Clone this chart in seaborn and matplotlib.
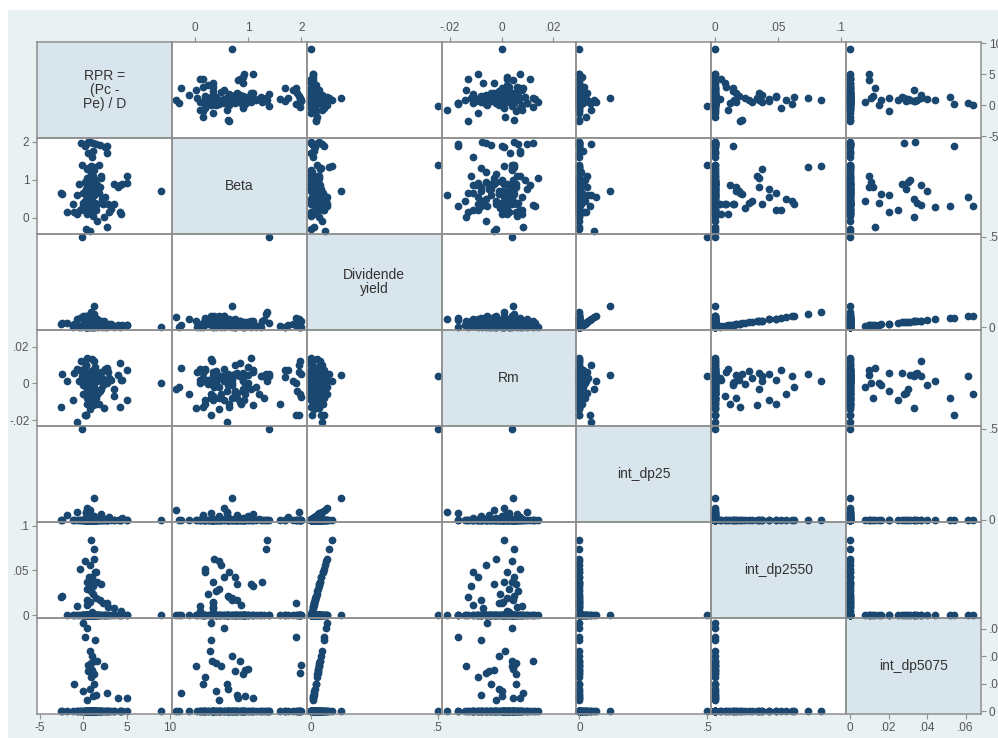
import matplotlib
matplotlib.use("Agg")
from matplotlib import pyplot as plt
from matplotlib.patches import Rectangle
import pandas as pd
import seaborn as sns
import numpy as np


##### Firm level data read off the scatter matrix
# rows are grouped by payout class: none (39), dp25 (23), dp2550 (32), dp5075 (28)
rpr = [9.0, 0.3, 0.8, 1.5, -0.3, 1.9, 0.6, 1.5, 0.3, 4.2, 4.2, 5.0, 3.2, 0.5, 1.0, 0.2, 1.2, 0.9, 0.4, 1.7,
       0.1, 1.3, 0.7, 2.2, 0.0, 1.1, 0.6, 3.5, 1.4, -0.5, 0.8, 2.8, 1.6, 0.3, 1.0, -1.2, 2.5, 0.5, 1.8,
       -0.1, 1.2, 0.8, 0.5, -0.7, 0.3, 0.3, 0.6, 2.0, 0.9, -1.9, 1.3, 0.7, 3.0, 1.1, 0.4, 4.5, 1.8, 0.2, 1.0,
       2.5, 0.6, 1.4,
       0.9, 1.2, 1.3, 0.2, -0.4, 0.8, 1.4, 1.5, 0.7, 1.0, 0.5, 1.6, 2.0, 0.9, 1.1, 0.5, 0.9, 1.1, -2.4, -2.5,
       1.5, 0.5, 1.9, 0.8, 2.3, 2.7, 0.4, -0.7, 2.9, 3.5, 4.3, 1.0,
       0.0, 0.4, 0.2, 1.4, 0.8, 1.0, 0.6, 1.2, 1.6, 0.9, 2.4, 0.7, 1.1, 0.8, 1.0, 0.6, 1.3, 0.9, -1.0, 1.2,
       0.0, 0.8, 2.7, 1.5, 4.0, 5.0, 1.1, 0.5]

beta = [0.70, 1.95, 2.00, 1.95, 1.98, 1.92, 1.70, 0.90, -0.30, 0.85, 0.15, 0.92, 0.24, 1.05, 0.30, 0.95, 0.60, 1.15, 0.40, 0.75,
        0.20, 1.25, 0.85, 0.50, 0.65, 0.05, 1.30, 0.90, 1.00, 0.90, 0.45, 1.70, -0.10, 0.75, 1.60, 0.35, 1.85, 0.10, 1.40,
        1.40, 0.70, -0.35, 0.55, 0.60, 1.95, 0.30, 0.60, 1.10, 0.80, 0.15, 1.00, 0.45, 0.15, 1.75, 0.95, 0.90, 0.65, 0.35, 1.20,
        0.55, 0.75, 0.40,
        1.35, 1.33, 0.37, 0.45, 0.19, 0.50, 0.65, 0.20, 0.75, 0.55, 1.27, 0.35, 1.05, 0.80, 1.10, 0.45, 0.40, 0.25, 0.63, 0.65,
        0.70, 0.70, 0.80, 0.35, 0.35, 1.90, 0.87, 0.10, 0.35, 0.35, 0.10, 0.35,
        0.30, 0.55, 1.90, 0.30, 0.28, 0.70, 2.00, 0.33, 0.85, 0.40, 0.03, 0.50, 1.98, 1.00, 0.95, 0.75, 0.90, 0.20, 0.15, 0.60,
        0.40, 0.62, -0.25, 0.80, 0.82, 1.10, 0.95, 0.45]

div_yield = [0.0, 0.004, 0.0, 0.012, 0.0, 0.008, 0.0, 0.015, 0.0, 0.006, 0.0, 0.010, 0.020, 0.0, 0.025, 0.0, 0.018, 0.0, 0.030, 0.0,
             0.022, 0.0, 0.035, 0.0, 0.012, 0.0, 0.040, 0.0, 0.028, 0.0, 0.014, 0.0, 0.045, 0.0, 0.009, 0.0, 0.016, 0.0, 0.024,
             0.50, 0.12, 0.055, 0.065, 0.045, 0.045, 0.040, 0.035, 0.030, 0.028, 0.025, 0.022, 0.020, 0.018, 0.015, 0.012, 0.010, 0.008, 0.006, 0.005,
             0.004, 0.003, 0.002,
             0.084, 0.074, 0.063, 0.061, 0.052, 0.056, 0.048, 0.048, 0.043, 0.043, 0.037, 0.037, 0.035, 0.035, 0.033, 0.029, 0.027, 0.024, 0.021, 0.020,
             0.019, 0.017, 0.017, 0.015, 0.014, 0.014, 0.012, 0.010, 0.009, 0.008, 0.005, 0.004,
             0.064, 0.061, 0.054, 0.052, 0.044, 0.040, 0.034, 0.037, 0.037, 0.035, 0.033, 0.033, 0.028, 0.031, 0.030, 0.029, 0.027, 0.025, 0.020, 0.020,
             0.015, 0.016, 0.013, 0.012, 0.010, 0.010, 0.011, 0.008]

rm = [0.000, -0.017, -0.0075, 0.0064, 0.012, -0.004, 0.0034, -0.004, -0.002, 0.011, -0.013, -0.009, 0.002, 0.014, 0.013, -0.006, 0.002, -0.002, 0.005, -0.005,
      0.008, 0.004, -0.010, 0.003, -0.001, 0.006, -0.008, -0.003, 0.009, 0.001, -0.014, 0.007, -0.006, 0.010, -0.011, -0.009, 0.001, 0.000, 0.005,
      0.004, 0.0045, -0.003, 0.001, -0.021, 0.010, -0.017, 0.003, 0.006, -0.005, 0.0015, 0.000, -0.008, 0.003, 0.007, -0.002, 0.002, -0.011, 0.004, -0.006,
      0.008, -0.004, 0.001,
      0.001, 0.005, -0.002, 0.004, 0.007, -0.006, 0.002, -0.011, 0.005, -0.009, 0.004, 0.001, -0.003, 0.0055, -0.012, 0.003, 0.0065, -0.0005, 0.005, -0.013,
      0.002, -0.008, 0.0045, 0.0005, -0.001, 0.000, -0.011, 0.008, 0.006, -0.007, 0.002, 0.003,
      -0.0056, 0.004, -0.017, -0.008, 0.0015, -0.001, 0.005, 0.012, 0.004, 0.0055, -0.0136, 0.004, -0.006, 0.0045, -0.003, -0.005, 0.0055, -0.009, 0.0055, -0.004,
      0.0003, -0.001, 0.0085, -0.008, 0.0045, 0.007, 0.000, -0.002]

payout_group = ["none"] * 39 + ["dp25"] * 23 + ["dp2550"] * 32 + ["dp5075"] * 28

diag_labels = ["RPR =\n(Pc -\nPe) / D", "Beta", "Dividende\nyield", "Rm", "int_dp25", "int_dp2550", "int_dp5075"]

# axis ranges and tick labels (Stata style)
axis_lims = [(-5.3, 10.2), (-0.43, 2.1), (-0.015, 0.515), (-0.0232, 0.029),
             (-0.012, 0.515), (-0.003, 0.104), (-0.002, 0.068)]
axis_ticks = [[-5, 0, 5, 10], [0, 1, 2], [0, 0.5], [-0.02, 0, 0.02],
              [0, 0.5], [0, 0.05, 0.1], [0, 0.02, 0.04, 0.06]]
axis_ticklabels = [["-5", "0", "5", "10"], ["0", "1", "2"], ["0", ".5"], ["-.02", "0", ".02"],
                   ["0", ".5"], ["0", ".05", ".1"], ["0", ".02", ".04", ".06"]]


##### Build the data frame, interaction terms = dividend yield x payout class dummy
df = pd.DataFrame({'rpr': rpr, 'beta': beta, 'div': div_yield, 'rm': rm, 'grp': payout_group})
df['int_dp25'] = np.where(df['grp'] == 'dp25', df['div'], 0.0)
df['int_dp2550'] = np.where(df['grp'] == 'dp2550', df['div'], 0.0)
df['int_dp5075'] = np.where(df['grp'] == 'dp5075', df['div'], 0.0)
cols = ['rpr', 'beta', 'div', 'rm', 'int_dp25', 'int_dp2550', 'int_dp5075']

plt.rcParams['font.family'] = ['Liberation Sans', 'DejaVu Sans']

navy = '#1a476f'
grid_col = '#8e8e8e'

g = sns.PairGrid(df, vars=cols, height=0.96, aspect=1.4, despine=False)
g.map_offdiag(sns.scatterplot, color=navy, s=31, linewidth=0, clip_on=False)

fig = g.figure
fig.set_size_inches(9.98, 7.38)
fig.set_dpi(100)
fig.patch.set_facecolor('white')
fig.subplots_adjust(left=37/998, right=981/998, bottom=1-714/738, top=1-42/738, wspace=0, hspace=0)

# background: light graph region and white plot region
fig.add_artist(Rectangle((8/998, 0), 1 - 8/998, 1 - 10/738, transform=fig.transFigure,
                         facecolor='#eaf1f3', edgecolor='none', zorder=-10))
fig.add_artist(Rectangle((37/998, 1-714/738), (981-37)/998, (714-42)/738, transform=fig.transFigure,
                         facecolor='white', edgecolor='none', zorder=-9))

for i in range(7):
    for j in range(7):
        ax = g.axes[i, j]
        ax.set_xlabel('')
        ax.set_ylabel('')
        ax.tick_params(which='both', bottom=False, top=False, left=False, right=False,
                       labelbottom=False, labeltop=False, labelleft=False, labelright=False,
                       direction='out', length=3.5, width=0.8, color=grid_col,
                       labelsize=8.5, labelcolor='#555555', pad=2)
        for s in ax.spines.values():
            s.set_color(grid_col)
            s.set_linewidth(1.1)
        if i == j:
            ax.set_facecolor('#d9e5ec')
            ax.set_zorder(-1)
            ax.text(0.5, 0.5, diag_labels[i], transform=ax.transAxes, ha='center', va='center',
                    fontsize=10, color='#333333', linespacing=1.0)
        else:
            ax.set_facecolor('none')

for k in range(7):
    g.axes[0, k].set_xlim(axis_lims[k])
    g.axes[0, k].set_xticks(axis_ticks[k], axis_ticklabels[k])
    g.axes[k, 0].set_ylim(axis_lims[k])
    g.axes[k, 0].set_yticks(axis_ticks[k], axis_ticklabels[k])

# alternate the outer axes like Stata's graph matrix
for k in range(7):
    if k % 2 == 1:
        g.axes[0, k].tick_params(axis='x', top=True, labeltop=True)
        g.axes[k, 0].tick_params(axis='y', left=True, labelleft=True)
    else:
        g.axes[6, k].tick_params(axis='x', bottom=True, labelbottom=True)
        g.axes[k, 6].tick_params(axis='y', right=True, labelright=True)

fig.savefig('out.png', dpi=100)
